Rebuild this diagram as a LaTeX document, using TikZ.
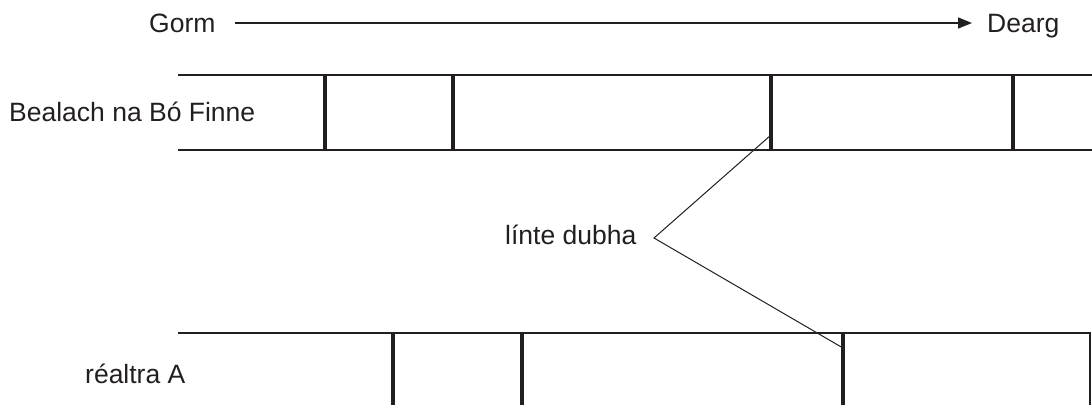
\documentclass[tikz,border=0pt]{standalone}
\usepackage{fontspec}
\setmainfont{Liberation Sans}
\usetikzlibrary{arrows.meta}
\definecolor{ink}{HTML}{231F20}
\tikzset{
  lbl/.style={inner sep=0pt, anchor=base west, text=ink, font=\fontsize{26.5}{31}\selectfont},
  rail/.style={draw=ink, line width=1.6pt},
  bar/.style={draw=ink, line width=3.5pt},
  lead/.style={draw=ink, line width=1pt},
  dirarrow/.style={draw=ink, line width=1.2pt, -{Triangle[length=14pt,width=11pt]}}
}
\begin{document}
\begin{tikzpicture}[x=1pt,y=-1pt]
\useasboundingbox (0,0) rectangle (1092,405);
% labels
\node[lbl] (gorm) at (149,32) {Gorm};
\node[lbl] (dearg) at (987,32) {Dearg};
\node[lbl] (bealach) at (9,121) {Bealach na Bó Finne};
\node[lbl] (realtra) at (85,383) {réaltra A};
\node[lbl] (linte) at (505,244) {línte dubha};
% direction arrow
\coordinate (a0) at (235,23);
\coordinate (a1) at (972,23);
\draw[dirarrow] (a0) -- (a1);
% top strip
\draw[rail] (178,75) -- (1092,75);
\draw[rail] (178,150) -- (1092,150);
\foreach \x in {325,453,771,1013} \draw[bar] (\x,75) -- (\x,150);
% bottom strip
\draw[rail] (178,333) -- (1090,333) -- (1090,405);
\foreach \x in {393,522,843} \draw[bar] (\x,333) -- (\x,405);
% leader
\coordinate (v) at (654,238);
\coordinate (t1) at (771,135);
\coordinate (t2) at (843,348);
\draw[lead] (t1) -- (v) -- (t2);
\end{tikzpicture}
\end{document}
